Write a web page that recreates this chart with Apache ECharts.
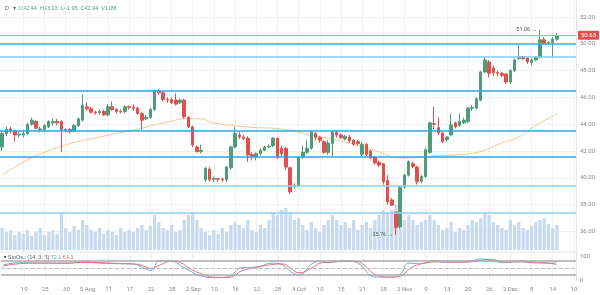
<!DOCTYPE html>
<html><head><meta charset="utf-8">
<script src="https://cdn.jsdelivr.net/npm/echarts/dist/echarts.min.js"></script>
<style>html,body{margin:0;padding:0;background:#fff}#c{width:600px;height:295px}</style>
</head><body><div id="c"></div>
<script>
const opens = [42.3,43.3,43.65,43.5,43.2,43.2,43.3,44.0,44.2,43.6,43.6,43.8,44.1,44.2,44.2,43.6,43.6,43.5,43.9,44.3,45.3,45.15,44.9,44.85,44.95,44.7,45.3,45.1,44.95,44.95,45.3,45.25,45.2,44.8,44.4,44.5,45.1,46.45,46.35,45.85,45.85,45.8,45.6,45.8,44.5,43.8,42.3,41.95,39.85,40.65,39.9,39.95,39.9,39.85,40.75,42.3,43.2,43.05,42.95,41.75,41.55,41.8,42.05,42.3,42.4,42.95,42.2,42.2,40.75,39.35,39.4,41.55,41.9,42.2,43.3,43.0,42.7,41.9,42.55,43.4,43.2,42.9,43.05,42.8,42.7,41.75,42.5,42.0,41.55,41.15,41.05,39.8,38.35,37.45,36.35,39.3,40.2,41.05,40.8,39.75,40.1,41.9,44.05,43.75,43.35,42.85,43.2,44.1,43.9,44.1,44.2,45.2,45.2,45.8,47.9,48.65,48.2,47.85,47.8,47.75,47.15,48.0,48.9,49.05,48.95,48.6,48.8,49.0,50.3,50.05,50.1,50.35];
const closes = [43.3,43.6,43.5,43.2,43.25,43.3,44.0,44.3,43.7,43.65,43.9,44.2,44.2,44.1,43.6,43.55,43.45,43.9,44.4,45.4,45.15,44.9,44.85,44.95,44.7,45.3,45.1,44.95,44.9,45.3,45.25,45.2,44.8,44.3,44.5,45.1,46.5,46.35,45.85,45.8,45.6,45.5,45.8,44.55,43.8,42.45,41.95,42.05,40.7,39.85,39.95,39.9,39.85,40.8,42.3,43.3,43.05,42.95,41.7,41.6,41.8,42.05,42.3,42.35,42.95,41.55,41.8,40.8,38.95,39.45,41.5,41.9,42.2,43.4,43.0,42.8,41.9,42.6,43.4,43.2,43.0,43.1,42.75,42.5,42.55,42.5,41.75,41.5,41.1,40.95,39.7,38.2,37.95,36.3,39.3,40.2,41.2,40.85,39.7,40.1,42.1,44.1,44.0,43.35,42.7,43.05,43.95,43.8,44.2,44.3,45.2,45.25,45.9,47.9,48.8,47.8,47.85,47.8,47.65,47.15,48.0,48.8,49.0,48.9,48.65,48.8,49.0,50.3,50.05,50.1,50.35,50.63];
const lows = [42.0,43.1,43.3,42.7,43.0,43.0,43.2,43.9,43.6,43.4,43.5,43.7,43.9,43.9,41.9,43.4,43.3,43.4,43.8,44.2,45.0,44.8,44.7,44.7,44.6,44.6,45.0,44.8,44.8,44.8,45.1,45.0,44.7,43.6,44.3,44.4,45.0,46.2,45.7,45.6,45.5,45.4,45.5,44.4,43.7,42.3,41.9,41.8,39.7,39.7,39.7,39.7,39.7,39.7,40.6,42.2,42.9,42.8,41.2,41.3,41.3,41.7,42.0,42.2,42.3,41.4,41.6,40.6,38.8,39.2,39.3,41.4,41.8,42.1,42.8,42.6,41.8,41.7,41.6,43.0,42.9,42.8,42.6,42.4,42.4,41.6,41.6,41.4,41.0,40.8,39.5,38.0,37.9,35.76,36.2,39.2,40.1,40.7,39.5,39.6,40.0,41.8,43.6,43.2,42.6,42.7,43.1,43.7,43.8,44.0,44.1,45.0,45.1,45.7,47.8,47.5,47.6,47.6,47.5,47.0,47.0,47.9,48.8,48.8,48.5,48.4,48.7,48.9,49.9,49.9,49.0,50.2];
const highs = [43.5,43.8,43.8,43.6,43.4,43.5,44.1,44.5,44.3,43.8,44.0,44.3,44.4,44.4,44.3,43.7,43.7,44.0,44.5,46.2,45.6,45.3,45.0,45.1,45.1,45.5,45.7,45.2,45.1,45.4,45.4,45.5,45.3,44.9,44.7,45.2,46.6,46.6,46.4,46.0,46.0,46.3,45.9,45.9,44.6,43.9,42.4,42.45,40.8,40.8,40.1,40.0,40.0,40.9,42.4,43.8,43.4,43.2,43.1,41.9,41.9,42.2,42.4,42.5,43.05,43.0,42.4,42.3,40.8,39.6,41.6,42.4,42.8,43.5,43.4,43.1,42.8,42.8,43.5,43.5,43.3,43.2,43.2,42.9,42.8,42.7,42.6,42.1,41.6,41.3,41.1,40.2,38.5,37.5,39.4,40.3,41.3,41.2,40.9,40.2,42.2,44.2,45.3,44.5,43.4,43.1,44.8,44.2,44.8,44.5,45.3,45.4,46.0,48.0,49.0,48.8,48.4,48.0,47.9,47.8,48.1,48.9,49.9,49.1,49.0,48.9,49.1,51.06,50.5,50.2,50.5,50.8];
const volumes = [22,18,20,15,18,16,20,14,18,22,15,18,20,16,38,22,18,24,20,30,25,20,18,22,16,20,18,15,22,18,20,18,22,25,20,24,35,28,22,20,25,18,20,30,35,38,30,22,18,15,20,16,22,18,25,28,25,22,30,20,18,25,22,30,38,35,40,42,38,30,32,25,20,28,22,18,25,30,35,30,25,28,22,30,20,25,28,22,30,35,40,38,40,45,38,30,35,30,25,28,30,35,30,25,20,22,28,18,22,20,25,30,28,32,38,35,28,25,22,20,30,25,28,22,20,24,28,30,32,26,22,25];
const tickIndex = [5,10,15,20,25,30,35,40,45,50,55,60,65,70,75,80,85,90,95,100,105,110,115,120,125,130,135];
const tickLabels = ['19','25','30','5 Aug','11','17','22','28','2 Sep','10','16','22','28','4 Oct','10','15','21','28','2 Nov','9','13','20','26','2 Dec','8','14','19'];
const maPoints = [[0,40.21],[7,41.48],[15,42.45],[23,43.04],[31,43.57],[39,44.16],[44,44.42],[47,44.39],[50,44.09],[58,43.79],[66,43.64],[73,43.19],[81,42.67],[89,41.93],[94,41.48],[102,41.63],[110,41.78],[114,42.07],[118,42.6],[122,43.04],[125,43.72],[131,44.76]];
const stochK = [[0,62],[4,72],[9,70],[15,70],[19,76],[23,70],[27,68],[31,66],[33,52],[35,40],[37,80],[40,78],[42,60],[44,40],[47,16],[50,10],[53,12],[55,35],[56,50],[60,55],[64,70],[66,64],[68,35],[70,22],[73,67],[75,77],[77,72],[80,80],[83,76],[85,55],[87,17],[89,12],[92,12],[94,25],[96,70],[99,68],[102,80],[104,74],[107,75],[110,76],[113,88],[115,82],[119,72],[122,78],[125,72],[129,70],[131,72.1]];
const stochD = [[0,58],[4,68],[9,71],[15,70],[19,73],[23,72],[27,69],[31,67],[33,60],[35,48],[37,62],[40,78],[42,72],[44,50],[47,25],[50,12],[53,11],[55,20],[56,35],[60,52],[64,65],[66,67],[68,50],[70,30],[73,50],[75,70],[77,74],[80,77],[83,78],[85,68],[87,35],[89,16],[92,12],[94,16],[96,45],[99,68],[102,75],[104,76],[107,74],[110,75],[113,82],[115,85],[119,76],[122,75],[125,75],[129,70],[131,64.1]];
const levels = [50.0, 49.0, 46.5, 43.54, 41.6, 39.44, 37.4];
const levelColors = ['#38aee8','#7fcaf0','#2aa6e6','#2aa6e6','#2aa6e6','#8fd0f2','#8fd0f2'];
const lastPrice = 50.63;
const highMark = [127, 51.06];
const lowMark = [93, 35.76];
const priceMin = 34, priceMax = 53.27, priceStep = 2;

const N = 136;
const cats = Array.from({length: N}, (_, i) => String(i));
const tickMap = {};
tickIndex.forEach((t, k) => { tickMap[t] = tickLabels[k]; });
const gridColor = '#eef0f3';
const txt = '#848a93';
const FONT = 'Roboto, "Liberation Sans", sans-serif';

function xAxis(gi, showLabel) {
  return {
    type: 'category', gridIndex: gi, data: cats, boundaryGap: true,
    axisLine: {show: false}, axisTick: {show: false, alignWithLabel: true},
    axisLabel: {show: showLabel, interval: 0, formatter: (v, i) => tickMap[i] || '', fontSize: 6, color: txt, margin: 6, fontFamily: FONT},
    splitLine: {show: true, alignWithLabel: true, interval: (i) => tickMap[i] !== undefined, lineStyle: {color: gridColor, width: 1}}
  };
}

const candles = opens.map((o, i) => [o, closes[i], lows[i], highs[i]]);
const UP = '#4f9d78', DOWN = '#e0514d';

const chart = echarts.init(document.getElementById('c'), null, {renderer: 'canvas'});
chart.setOption({
  animation: false,
  textStyle: {fontFamily: FONT},
  grid: [
    {left: 0, right: 24, top: 0, height: 258.2},
    {left: 0, right: 24, top: 200, height: 50},
    {left: 0, right: 24, top: 256, height: 24}
  ],
  xAxis: [xAxis(0, false), xAxis(1, false), xAxis(2, true)],
  yAxis: [
    {type: 'value', gridIndex: 0, position: 'right', min: priceMin, max: priceMax, interval: priceStep,
     axisLine: {show: true, lineStyle: {color: '#e3e6ea'}}, axisTick: {show: false},
     axisLabel: {fontSize: 6, color: txt, margin: 4, formatter: v => v.toFixed(2), showMinLabel: false, showMaxLabel: false},
     splitLine: {show: true, showMinLine: false, showMaxLine: false, lineStyle: {color: gridColor}}},
    {type: 'value', gridIndex: 1, position: 'right', min: 0, max: 50, show: false, splitLine: {show: false}},
    {type: 'value', gridIndex: 2, position: 'right', min: 0, max: 100, interval: 100,
     axisLine: {show: true, lineStyle: {color: '#e3e6ea'}}, axisTick: {show: false},
     axisLabel: {fontSize: 6, color: txt, margin: 4}, splitLine: {show: false}}
  ],
  graphic: [
    {type: 'line', shape: {x1: 0, y1: 252, x2: 576, y2: 252}, style: {stroke: '#e3e6ea', lineWidth: 1}},
    {type: 'text', left: 5, top: 5, style: {text: '{g|D}   {g|▾}  {v|O42.44  H43.03  L41.95  C42.94  V1186}', fontSize: 5.5, fontFamily: FONT,
      rich: {g: {fill: '#666', fontSize: 5.5}, v: {fill: '#4f9d78', fontSize: 5.5}}}},
    {type: 'text', left: 4, top: 254, style: {text: '{d|■} {t|StoOsc (14, 3, 3)} {b|72.1} {r|64.1}', fontSize: 5.5, fontFamily: FONT,
      rich: {d: {fill: '#555', fontSize: 4}, t: {fill: '#555', fontSize: 5.5}, b: {fill: '#5b9bd5', fontSize: 5.5}, r: {fill: '#e0514d', fontSize: 5.5}}}}
  ],
  series: [
    {type: 'bar', xAxisIndex: 1, yAxisIndex: 1, data: volumes, barWidth: '78%', itemStyle: {color: '#c8dbee'}, silent: true, z: 1},
    {type: 'candlestick', xAxisIndex: 0, yAxisIndex: 0, data: candles, barWidth: 3, z: 3,
     itemStyle: {color: UP, color0: DOWN, borderColor: UP, borderColor0: DOWN, borderWidth: 1},
     markLine: {silent: true, symbol: 'none', animation: false,
       data: levels.map((v, k) => ({yAxis: v, lineStyle: {color: levelColors[k], width: 1.5, type: 'solid'}, label: {show: false}}))
         .concat([{yAxis: lastPrice, lineStyle: {color: '#f3a29e', width: 1, type: 'solid'},
           label: {show: true, position: 'end', formatter: lastPrice.toFixed(2), color: '#fff', backgroundColor: '#e0514d', padding: [2, 3, 1, 3], fontSize: 6, distance: 2, borderRadius: 1}}])
     },
     markPoint: {symbol: 'circle', symbolSize: 0, silent: true,
       data: [
         {coord: highMark, value: highMark[1], label: {show: true, position: 'left', distance: 3, formatter: highMark[1].toFixed(2) + ' →', color: '#555', fontSize: 5.5}},
         {coord: lowMark, value: lowMark[1], label: {show: true, position: 'left', distance: 3, formatter: lowMark[1].toFixed(2) + ' →', color: '#555', fontSize: 5.5}}
       ]}
    },
    {type: 'line', xAxisIndex: 0, yAxisIndex: 0, data: maPoints, smooth: true, symbol: 'none', lineStyle: {color: '#f7c58c', width: 1}, z: 2, silent: true},
    {type: 'line', xAxisIndex: 2, yAxisIndex: 2, data: stochK, smooth: true, symbol: 'none', lineStyle: {color: '#6fa8dc', width: 1}, z: 3, silent: true,
     markLine: {silent: true, symbol: 'none', label: {show: false},
       data: [{yAxis: 80, lineStyle: {color: '#aaaaaa', width: 1.5, type: 'solid'}},
              {yAxis: 20, lineStyle: {color: '#aaaaaa', width: 1.5, type: 'solid'}},
              {yAxis: 50, lineStyle: {color: '#bbbbbb', width: 1, type: 'dashed'}}]}},
    {type: 'line', xAxisIndex: 2, yAxisIndex: 2, data: stochD, smooth: true, symbol: 'none', lineStyle: {color: '#e57373', width: 1}, z: 3, silent: true}
  ]
});
</script></body></html>
